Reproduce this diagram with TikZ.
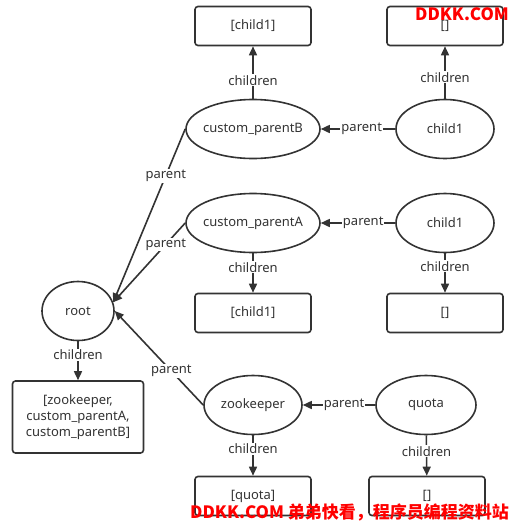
\documentclass[tikz,border=0pt]{standalone}
\usepackage{fontspec}
\setmainfont{Noto Sans}
\newfontfamily\cjk{Noto Sans CJK SC}
\usetikzlibrary{shapes.geometric,arrows.meta}
\definecolor{ink}{HTML}{333333}
\begin{document}
\begin{tikzpicture}[x=1pt,y=-1pt,
  every node/.style={font=\fontsize{13}{16}\selectfont, text=ink},
  ell/.style={draw=ink, line width=1.6pt, ellipse, inner sep=0pt, minimum height=59pt},
  box/.style={draw=ink, line width=1.6pt, rounded corners=3pt, inner sep=0pt, minimum width=116pt, minimum height=39pt, align=center},
  conn/.style={draw=ink, line width=1.6pt, -{Triangle[length=9pt,width=8pt]}},
  lbl/.style={fill=white, inner sep=1pt},
  wm/.style={font=\cjk\bfseries\fontsize{17}{17}\selectfont, text=red, inner sep=0pt}
]
\useasboundingbox (0,0) rectangle (514,523);
\fill[white] (0,0) rectangle (514,523);

% top row
\node[box] (bB) at (253,26) {[child1]};
\node[box] (bBc) at (445,26) {[]};
\node[ell, minimum width=134pt] (cpB) at (253,129) {\makebox[0pt]{custom\_parentB}};
\node[ell, minimum width=98pt] (cB) at (445,129) {child1};

% middle row
\node[ell, minimum width=134pt] (cpA) at (253,223) {\makebox[0pt]{custom\_parentA}};
\node[ell, minimum width=98pt] (cA) at (445,223) {child1};
\node[box] (bA) at (253,313) {[child1]};
\node[box] (bAc) at (445,313) {[]};

% root
\node[ell, minimum width=72pt] (root) at (78,311) {root};
\node[box, minimum width=131pt, minimum height=72pt] (broot) at (78,417) {[zookeeper,\\custom\_parentA,\\custom\_parentB]};

% bottom row
\node[ell, minimum width=98pt] (zk) at (253,405) {\makebox[0pt]{zookeeper}};
\node[ell, minimum width=100pt] (qt) at (426,405) {quota};
\node[box] (bzk) at (253,496) {[quota]};
\node[box] (bqt) at (427,496) {[]};

% connectors
\draw[conn] (cpB) -- node[lbl,pos=0.35]{children} (bB);
\draw[conn] (cB) -- node[lbl,pos=0.41]{children} (bBc);
\draw[conn] (cB) -- node[lbl,pos=0.45]{parent} (cpB);
\draw[conn] (cA) -- node[lbl,pos=0.43]{parent} (cpA);
\draw[conn] (cpA) -- node[lbl,pos=0.36]{children} (bA);
\draw[conn] (cA) -- node[lbl,pos=0.33]{children} (bAc);
\draw[conn] (cpB.west) -- node[lbl,pos=0.27]{parent} (root.14);
\draw[conn] (cpA.west) -- node[lbl,pos=0.27]{parent} (root.14);
\draw[conn] (zk.west) -- node[lbl,pos=0.36]{parent} (root.east);
\draw[conn] (root) -- node[lbl,pos=0.34]{children} (broot);
\draw[conn] (qt) -- node[lbl,pos=0.43]{parent} (zk);
\draw[conn] (zk) -- node[lbl,pos=0.33]{children} (bzk);
\draw[conn] (qt) -- node[lbl,pos=0.4]{children} (bqt);

% watermarks
\node[wm] (wm1) at (462,14) {DDKK.COM};
\node[wm, anchor=west] (wm2) at (190,512) {DDKK.COM 弟弟快看，程序员编程资料站};
\end{tikzpicture}
\end{document}
